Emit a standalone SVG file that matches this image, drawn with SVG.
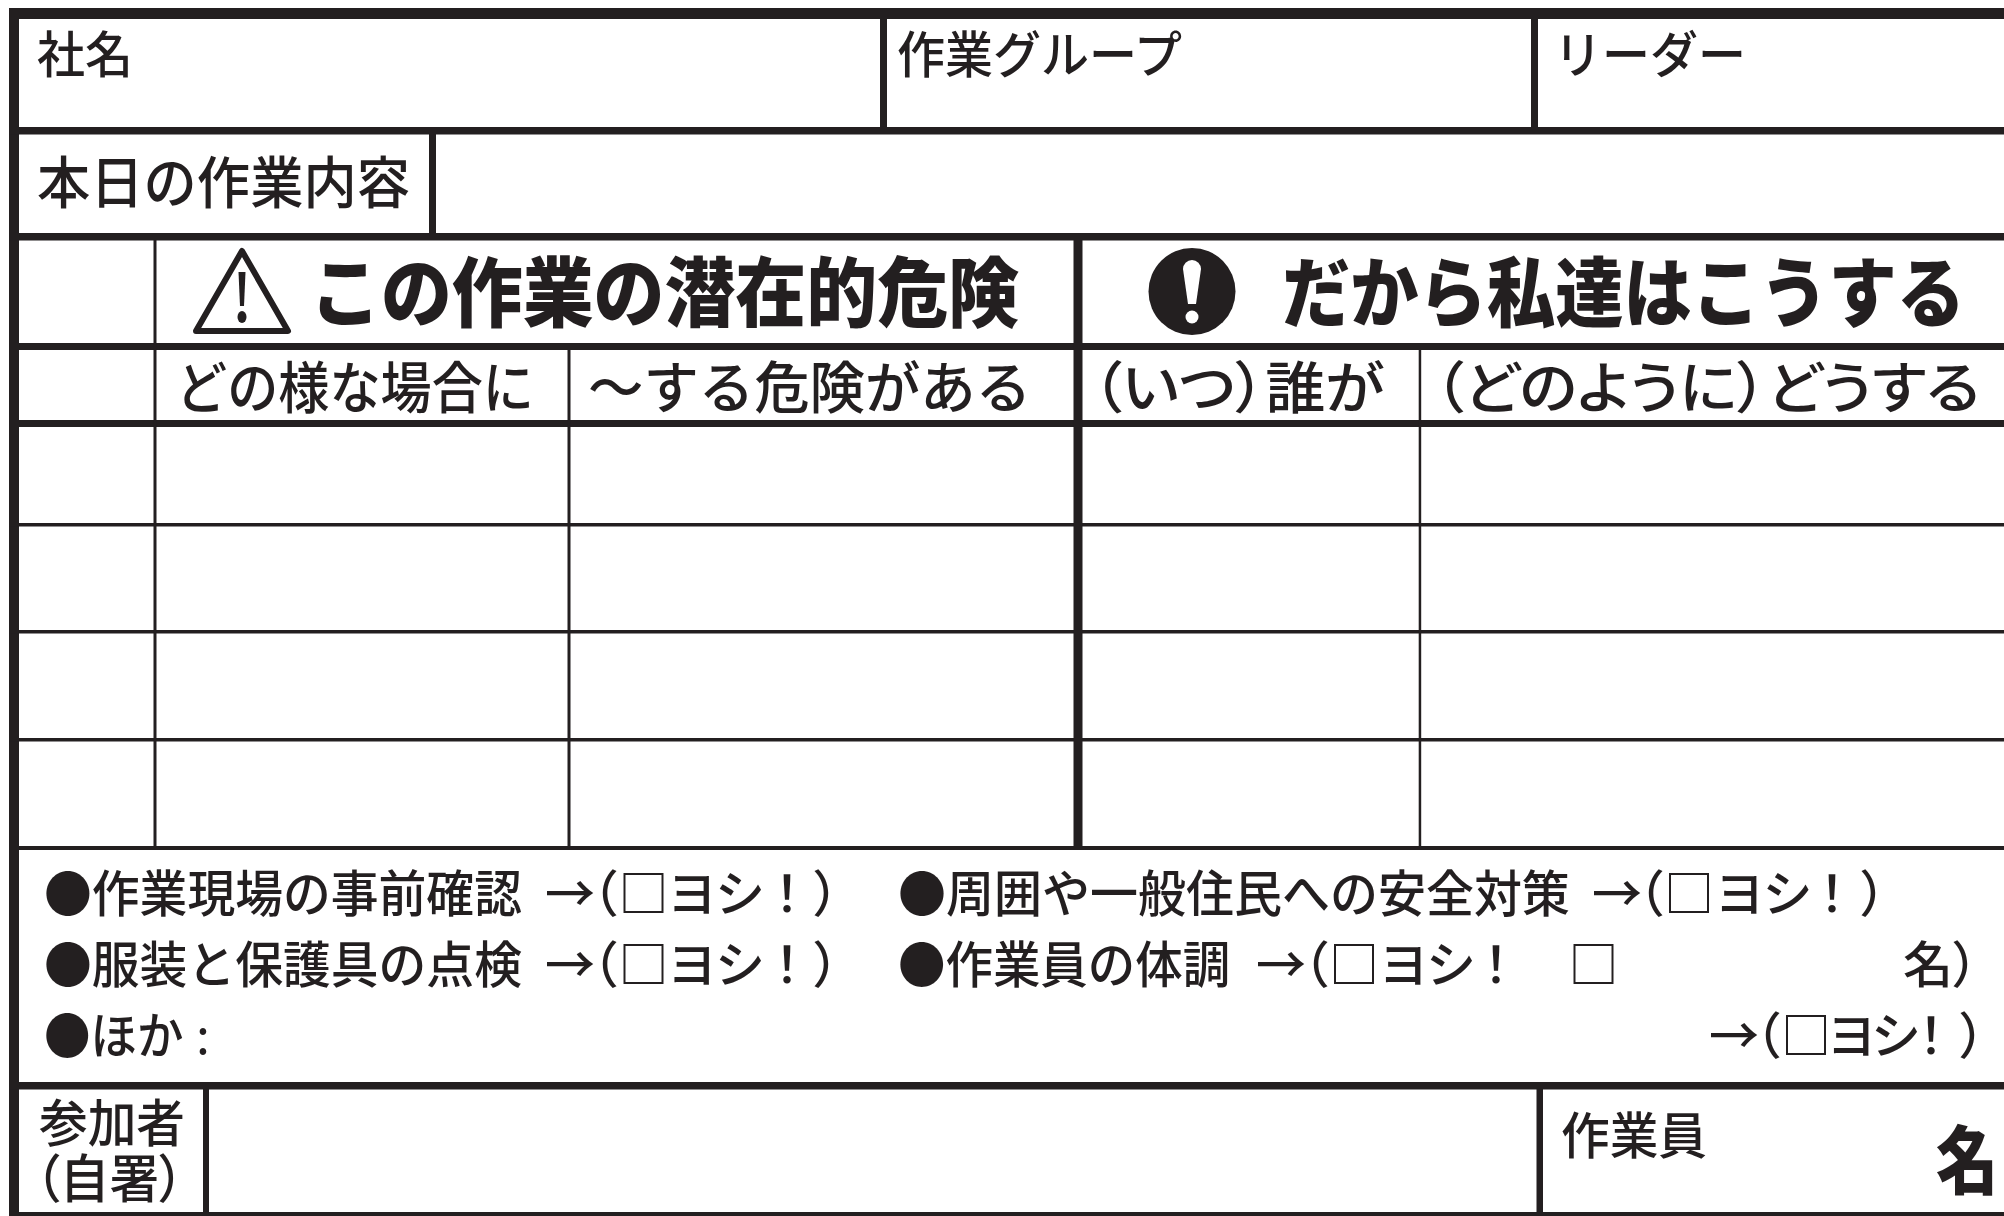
<svg xmlns="http://www.w3.org/2000/svg" width="2004" height="1216" viewBox="0 0 2004 1216">
<style>
text{font-family:"Noto Sans CJK JP","Noto Sans",sans-serif;fill:#231f20;font-weight:500}
.a{font-size:50px}.b{font-size:56px}.h{font-size:76px;font-weight:900}.s{font-size:56px}.c{font-size:50px}
.p{font-feature-settings:"palt"}
.k{fill:#231f20}
</style>
<rect width="2004" height="1216" fill="#fff"/>
<g id="grid" class="k">
<rect x="9" y="8" width="1995" height="11"/>
<rect x="9" y="8" width="10" height="1208"/>
<rect x="9" y="127" width="1995" height="7.500"/>
<rect x="9" y="233" width="1995" height="7.500"/>
<rect x="9" y="343" width="1995" height="7"/>
<rect x="9" y="420" width="1995" height="7"/>
<rect x="9" y="523" width="1995" height="3.500"/>
<rect x="9" y="630" width="1995" height="3.500"/>
<rect x="9" y="738" width="1995" height="3.500"/>
<rect x="9" y="846" width="1995" height="4"/>
<rect x="9" y="1082" width="1995" height="7.500"/>
<rect x="9" y="1212" width="1995" height="4"/>
<rect x="880" y="19" width="7" height="110"/>
<rect x="1531" y="19" width="7" height="110"/>
<rect x="429" y="134" width="7" height="100"/>
<rect x="153.500" y="240" width="3" height="606"/>
<rect x="567.500" y="350" width="3" height="496"/>
<rect x="1073.500" y="240" width="9" height="606"/>
<rect x="1418.700" y="350" width="2.500" height="496"/>
<rect x="203" y="1089" width="6" height="124"/>
<rect x="1536.500" y="1089" width="6.500" height="124"/>
</g>
<g id="header-top">
<text class="a" x="37" y="73" textLength="96" lengthAdjust="spacingAndGlyphs">社名</text>
<text class="a" x="897" y="73" textLength="285" lengthAdjust="spacingAndGlyphs">作業グループ</text>
<text class="a" x="1554" y="73" textLength="192" lengthAdjust="spacingAndGlyphs">リーダー</text>
<text class="b" x="37" y="203" textLength="373" lengthAdjust="spacingAndGlyphs">本日の作業内容</text>
</g>
<g id="danger-head">
<path d="M242 251 L288 331 H196 Z" fill="none" stroke="#231f20" stroke-width="6" stroke-linejoin="round"/>
<path d="M238.500 272 h7 l-1.500 34 h-4 Z" class="k"/>
<ellipse cx="242" cy="317" rx="4.500" ry="6" class="k"/>
<text class="h" transform="translate(310 321) scale(.933 1)">この作業の潜在的危険</text>
<text class="s" x="176" y="408" textLength="358" lengthAdjust="spacingAndGlyphs">どの様な場合に</text>
<text class="s" x="588" y="408" textLength="443" lengthAdjust="spacingAndGlyphs">～する危険がある</text>
</g>
<g id="action-head">
<circle cx="1192" cy="291.500" r="43.500" class="k"/>
<path d="M1183 269 a9 9 0 0 1 18 0 l-5 35 h-8 Z" fill="#fff"/>
<circle cx="1192" cy="317" r="6.500" fill="#fff"/>
<text class="h" transform="translate(1282 321) scale(.8987 1)">だから私達はこうする</text>
<text class="s p" x="1092" y="408" textLength="292" lengthAdjust="spacingAndGlyphs">（いつ）誰が</text>
<text class="s p" x="1434" y="408" textLength="546" lengthAdjust="spacingAndGlyphs">（どのように）どうする</text>
</g>
<g id="checks">
<text class="c" transform="translate(44 912) scale(.956 1)">●作業現場の事前確認</text>
<text class="c" x="545 592 618.500 667 715 762 814" y="912">→<tspan class="p">（</tspan>□ヨシ！<tspan class="p">）</tspan></text>
<text class="c" transform="translate(44 983) scale(.956 1)">●服装と保護具の点検</text>
<text class="c" x="545 592 618.500 667 715 762 814" y="983">→<tspan class="p">（</tspan>□ヨシ！<tspan class="p">）</tspan></text>
<text class="c" transform="translate(44 1054) scale(.93 1)">●ほか</text>
<text class="c" x="196" y="1054" style="font-weight:400">:</text>
<text class="c" transform="translate(898 912) scale(.96 1)">●周囲や一般住民への安全対策</text>
<text class="c" x="1592 1638 1664 1714.500 1762.500 1807 1861" y="912">→<tspan class="p">（</tspan>□ヨシ！<tspan class="p">）</tspan></text>
<text class="c" transform="translate(898 983) scale(.949 1)">●作業員の体調</text>
<text class="c" x="1256 1303 1329 1378.500 1426 1471 1568.500 1903 1953" y="983">→<tspan class="p">（</tspan>□ヨシ！□名<tspan class="p">）</tspan></text>
<text class="c" x="1709 1755 1781 1826.500 1871 1906 1960" y="1054">→<tspan class="p">（</tspan>□ヨシ！<tspan class="p">）</tspan></text>
</g>
<g id="participants">
<text x="39" y="1142" style="font-size:51px" textLength="146" lengthAdjust="spacingAndGlyphs">参加者</text>
<text class="p" x="35" y="1198" style="font-size:52px" textLength="149" lengthAdjust="spacingAndGlyphs">（自署）</text>
<text class="a" x="1561" y="1154" textLength="146" lengthAdjust="spacingAndGlyphs">作業員</text>
<text transform="translate(1936 1188) scale(.84 1)" style="font-size:74px;font-weight:900">名</text>
</g>
</svg>
